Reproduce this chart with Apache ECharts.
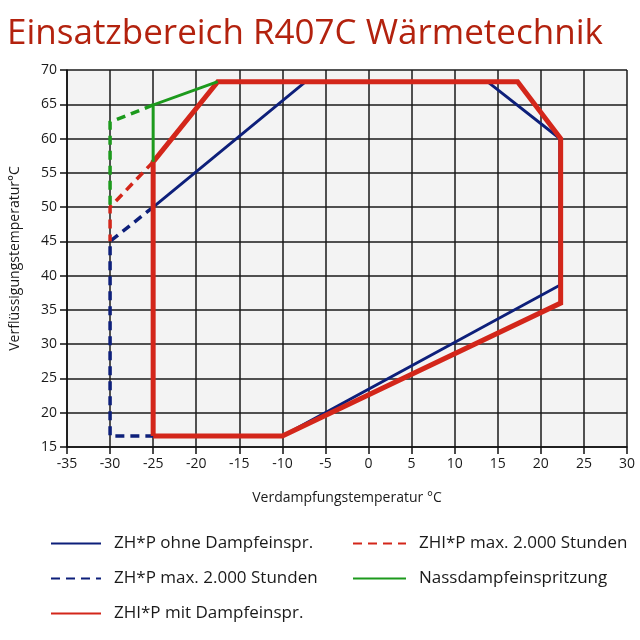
<!DOCTYPE html>
<html>
<head>
<meta charset="utf-8">
<script src="https://cdn.jsdelivr.net/npm/echarts@6/dist/echarts.min.js"></script>
<style>
  html, body { margin: 0; padding: 0; background: #fff; }
  #chart { width: 640px; height: 640px; }
</style>
</head>
<body>
<div id="chart"></div>
<script>
// Achsen
const xTicks = [-35, -30, -25, -20, -15, -10, -5, 0, 5, 10, 15, 20, 25, 30]
const yTicks = [15, 20, 25, 30, 35, 40, 45, 50, 55, 60, 65, 70]

// Einsatzgrenzen [Verdampfung, Verflüssigung]
const zhpOhne = [[-25, 16.6], [-25, 50], [-7.3, 68.3], [13.8, 68.3], [22.2, 60], [22.2, 38.6], [-10, 16.6], [-25, 16.6]]
const zhpMax = [[-25, 50], [-30, 45], [-30, 16.6], [-25, 16.6]]
const zhipMit = [[-25, 16.6], [-25, 56.6], [-17.5, 68.3], [17.3, 68.3], [22.3, 60], [22.3, 36], [-10, 16.6], [-25, 16.6]]
const zhipMax = [[-25, 56.6], [-30, 50], [-30, 45]]
const nassSolid = [[-25, 56.6], [-25, 64.9], [-17.5, 68.3]]
const nassDashed = [[-25, 64.9], [-30, 62.4], [-30, 50]]

const BLUE = '#0d1f7a'
const RED = '#d3261a'
const GREEN = '#1c9a1c'
const FONT = 'Open Sans'

let chart = echarts.init(document.getElementById('chart'))

function line(name, data, color, width, dashed) {
  return {
    name: name,
    type: 'line',
    data: data,
    symbol: 'none',
    silent: true,
    animation: false,
    lineStyle: {
      color: color,
      width: width,
      type: dashed ? [9, 6] : 'solid',
      cap: 'butt',
      join: 'miter'
    },
    itemStyle: { color: color }
  }
}

let legendText = {
  color: '#1a1a1a',
  fontSize: 17,
  fontFamily: FONT,
  padding: [0, 0, 0, 8]
}

chart.setOption({
  backgroundColor: '#fff',
  title: {
    text: 'Einsatzbereich R407C Wärmetechnik',
    left: 2,
    top: 12,
    textStyle: {
      color: '#b3220e',
      fontSize: 35,
      fontWeight: 'normal',
      fontFamily: FONT
    }
  },
  legend: [
    {
      orient: 'vertical',
      left: 45,
      top: 530,
      itemWidth: 50,
      itemHeight: 14,
      itemGap: 18,
      itemStyle: { opacity: 0 },
      textStyle: legendText,
      data: ['ZH*P ohne Dampfeinspr.', 'ZH*P max. 2.000 Stunden', 'ZHI*P mit Dampfeinspr.']
    },
    {
      orient: 'vertical',
      left: 347,
      top: 530,
      itemWidth: 53,
      itemHeight: 14,
      itemGap: 18,
      itemStyle: { opacity: 0 },
      textStyle: legendText,
      data: ['ZHI*P max. 2.000 Stunden', 'Nassdampfeinspritzung']
    }
  ],
  grid: {
    left: 65,
    right: 13,
    top: 70,
    bottom: 193,
    show: true,
    backgroundColor: '#f3f3f3',
    borderWidth: 0
  },
  xAxis: {
    type: 'value',
    min: xTicks[0],
    max: xTicks[xTicks.length - 1],
    interval: 5,
    name: 'Verdampfungstemperatur °C',
    nameLocation: 'middle',
    nameGap: 44,
    nameTextStyle: { color: '#1a1a1a', fontSize: 14, fontFamily: FONT },
    axisLine: { onZero: false, lineStyle: { color: '#111', width: 1.5 } },
    axisTick: { length: 7, lineStyle: { color: '#111', width: 1.5 } },
    axisLabel: { color: '#1a1a1a', fontSize: 14, fontFamily: FONT, margin: 10 },
    splitLine: { lineStyle: { color: '#1a1a1a', width: 1.5 } }
  },
  yAxis: {
    type: 'value',
    min: yTicks[0],
    max: yTicks[yTicks.length - 1],
    interval: 5,
    name: 'Verflüssigungstemperatur°C',
    nameLocation: 'middle',
    nameGap: 45,
    nameTextStyle: { color: '#1a1a1a', fontSize: 14, fontFamily: FONT },
    axisLine: { show: true, onZero: false, lineStyle: { color: '#111', width: 1.5 } },
    axisTick: { show: true, length: 7, lineStyle: { color: '#111', width: 1.5 } },
    axisLabel: { color: '#1a1a1a', fontSize: 14, fontFamily: FONT, margin: 10 },
    splitLine: { lineStyle: { color: '#1a1a1a', width: 1.5 } }
  },
  series: [
    line('ZH*P ohne Dampfeinspr.', zhpOhne, BLUE, 3, false),
    line('ZH*P max. 2.000 Stunden', zhpMax, BLUE, 3.5, true),
    line('ZHI*P mit Dampfeinspr.', zhipMit, RED, 5, false),
    line('ZHI*P max. 2.000 Stunden', zhipMax, RED, 3.5, true),
    line('Nassdampfeinspritzung', nassSolid, GREEN, 3, false),
    line('Nassdampfeinspritzung (max.)', nassDashed, GREEN, 3.5, true)
  ]
})
</script>
</body>
</html>
